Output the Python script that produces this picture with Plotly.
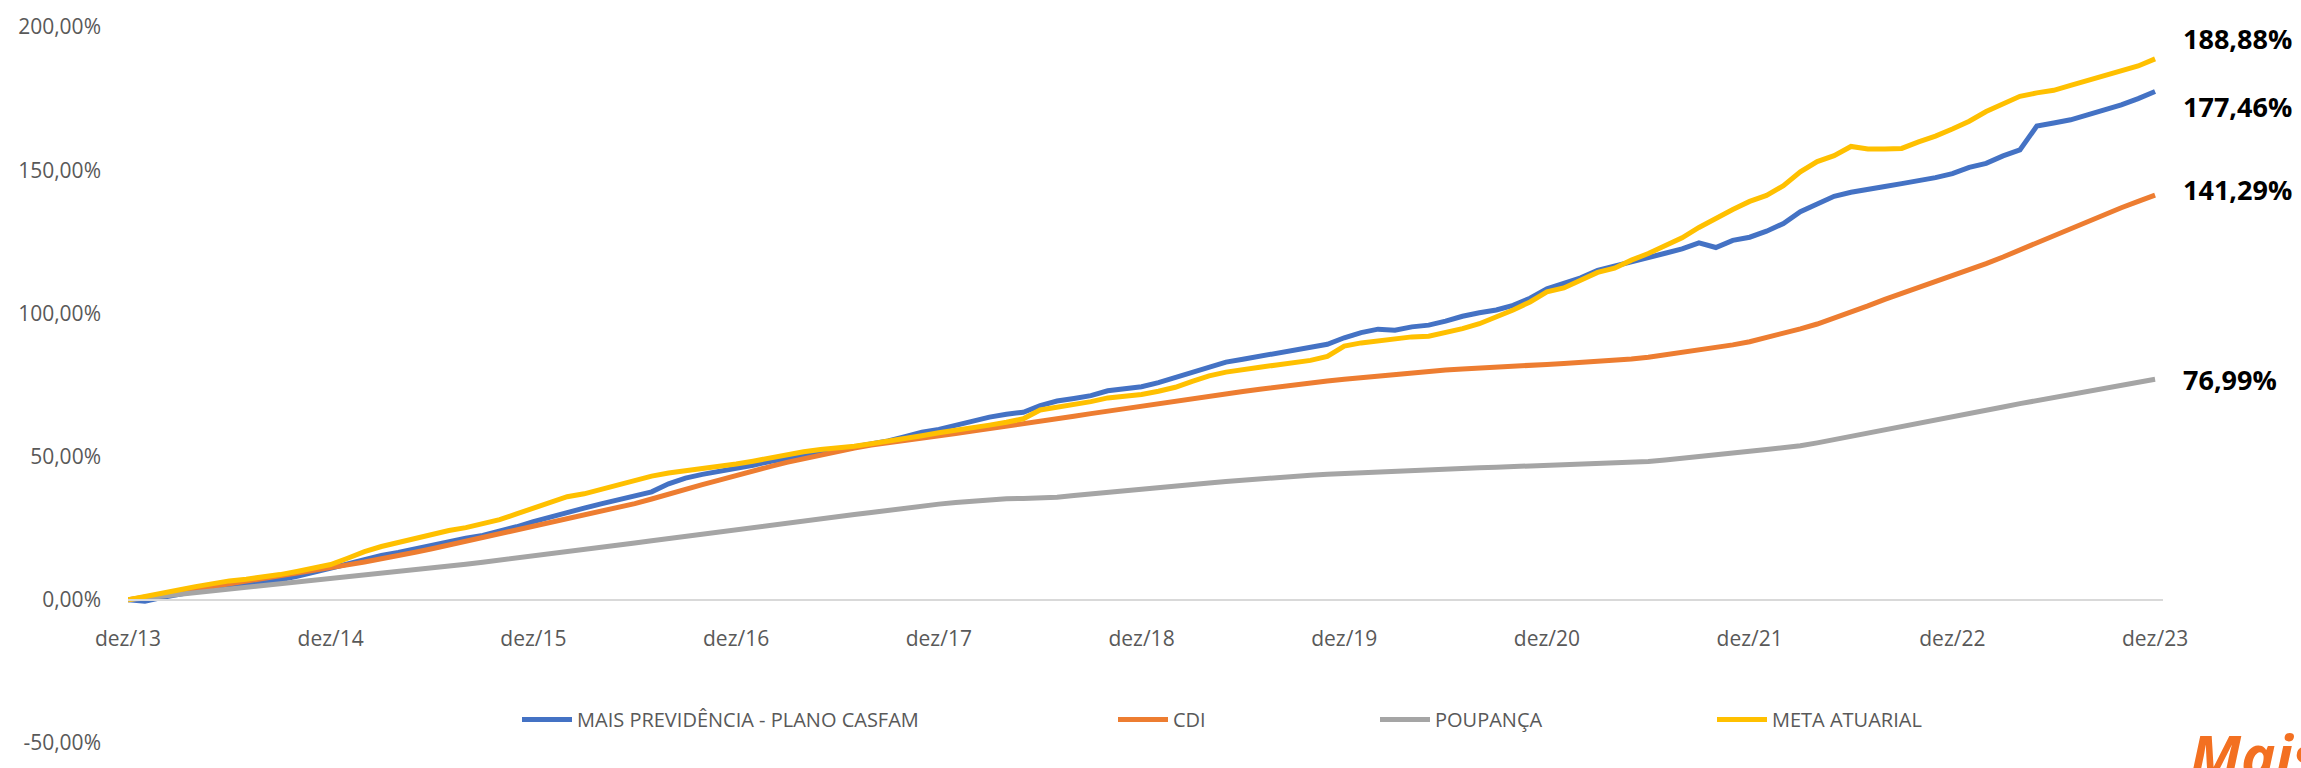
import plotly.graph_objects as go

# ---------------- data ----------------
month_abbr = ["jan", "fev", "mar", "abr", "mai", "jun", "jul", "ago", "set", "out", "nov", "dez"]
categories = ["dez/13"] + [f"{month_abbr[m]}/{y % 100:02d}" for y in range(2014, 2024) for m in range(12)]

tick_labels = ["dez/13", "dez/14", "dez/15", "dez/16", "dez/17", "dez/18",
               "dez/19", "dez/20", "dez/21", "dez/22", "dez/23"]

mais_previdencia = [
    0.0, -0.5, 0.8, 2.0, 3.0, 3.8, 4.5, 5.2, 6.0, 7.0, 8.2, 9.5,
    11.0, 12.5, 14.0, 15.5, 16.5, 17.8, 19.0, 20.5, 21.5, 22.5, 23.8, 25.5,
    27.3, 29.0, 30.5, 32.0, 33.5, 35.0, 36.5, 37.7, 40.5, 42.5, 43.8, 44.8,
    45.8, 47.0, 48.3, 49.3, 50.3, 51.5, 52.5, 53.5, 54.5, 55.5, 57.0, 58.5,
    59.5, 61.0, 62.5, 63.8, 64.8, 65.5, 67.8, 69.4, 70.3, 71.3, 73.0, 73.8,
    74.4, 75.8, 77.6, 79.3, 81.0, 83.0, 84.0, 85.0, 86.0, 87.0, 88.0, 89.2,
    91.5, 93.3, 94.5, 94.1, 95.3, 95.9, 97.3, 99.0, 100.2, 101.2, 102.8, 105.3,
    108.6, 110.5, 112.4, 115.0, 116.4, 118.0, 119.4, 121.0, 122.5, 124.6, 123.0, 125.5,
    126.6, 128.7, 131.4, 135.5, 138.2, 140.9, 142.3, 143.5, 144.3, 145.3, 146.3, 147.4,
    148.8, 151.0, 152.4, 155.0, 157.1, 165.4, 166.5, 167.6, 169.3, 171.0, 172.8, 175.0,
    177.46,
]

cdi = [
    0.0, 0.8, 1.8, 2.8, 3.7, 4.6, 5.5, 6.4, 7.4, 8.4, 9.3, 10.3,
    11.2, 12.2, 13.2, 14.2, 15.4, 16.6, 17.8, 19.1, 20.4, 21.6, 22.9, 24.2,
    25.5, 26.8, 28.1, 29.4, 30.8, 32.2, 33.6, 35.2, 37.0, 38.6, 40.2, 41.8,
    43.5, 45.0, 46.5, 48.0, 49.3, 50.6, 51.8, 53.0, 54.0, 54.9, 55.7, 56.5,
    57.3, 58.1, 58.9, 59.7, 60.5, 61.4, 62.3, 63.2, 64.1, 65.0, 65.9, 66.8,
    67.7, 68.6, 69.4, 70.2, 71.1, 71.9, 72.7, 73.5, 74.3, 75.0, 75.7, 76.4,
    77.0, 77.6, 78.2, 78.8, 79.3, 79.8, 80.2, 80.6, 81.0, 81.3, 81.6, 81.9,
    82.2, 82.5, 82.8, 83.2, 83.6, 84.1, 84.7, 85.5, 86.3, 87.1, 88.0, 89.0,
    90.1, 91.5, 93.0, 94.6, 96.3, 98.3, 100.4, 102.6, 104.9, 107.0, 108.8, 110.8,
    112.9, 115.1, 117.4, 119.7, 122.2, 124.5, 127.0, 129.6, 132.2, 134.6, 136.9, 139.1,
    141.29,
]

poupanca = [
    0.0, 0.6, 1.3, 2.0, 2.6, 3.2, 3.8, 4.4, 5.0, 5.6, 6.2, 6.8,
    7.3, 7.9, 8.5, 9.1, 9.7, 10.4, 11.0, 11.7, 12.4, 13.1, 13.8, 14.5,
    15.2, 15.9, 16.6, 17.4, 18.2, 19.0, 19.8, 20.6, 21.4, 22.2, 23.0, 23.8,
    24.6, 25.4, 26.2, 26.9, 27.6, 28.4, 29.1, 29.8, 30.5, 31.3, 32.0, 32.7,
    33.4, 34.0, 34.5, 35.0, 35.3, 35.4, 35.4, 35.8, 36.4, 37.0, 37.6, 38.2,
    38.7, 39.3, 39.8, 40.3, 40.8, 41.3, 41.8, 42.3, 42.7, 43.1, 43.5, 43.8,
    44.1, 44.4, 44.7, 45.0, 45.3, 45.5, 45.7, 45.9, 46.1, 46.3, 46.5, 46.7,
    46.9, 47.1, 47.3, 47.5, 47.7, 47.9, 48.3, 48.8, 49.5, 50.2, 50.9, 51.4,
    51.9, 52.5, 53.1, 53.8, 54.8, 55.9, 57.0, 58.2, 59.3, 60.4, 61.5, 62.6,
    63.8, 65.0, 66.2, 67.3, 68.5, 69.6, 70.5, 71.4, 72.5, 73.6, 74.8, 75.9,
    76.99,
]

meta_atuarial = [
    0.0, 1.0, 2.1, 3.4, 4.6, 5.8, 6.6, 7.2, 7.8, 8.8, 9.9, 11.0,
    12.3, 14.5, 16.8, 18.6, 20.0, 21.4, 22.9, 24.2, 25.2, 26.4, 28.0, 30.0,
    32.0, 34.3, 36.0, 37.0, 38.5, 40.3, 41.8, 43.2, 44.3, 45.0, 45.8, 46.5,
    47.4, 48.4, 49.6, 50.6, 51.7, 52.5, 53.0, 53.6, 54.5, 55.3, 56.3, 57.3,
    58.3, 59.1, 60.0, 61.0, 62.0, 63.2, 66.3, 67.2, 67.9, 69.2, 70.5, 71.1,
    71.7, 72.8, 74.2, 76.3, 78.2, 79.5, 80.5, 81.2, 82.0, 82.8, 83.6, 85.0,
    88.6, 89.7, 90.5, 91.4, 91.8, 92.0, 93.2, 94.7, 96.4, 98.6, 101.2, 104.0,
    107.5, 108.9, 111.6, 114.3, 115.8, 118.6, 120.9, 123.8, 126.4, 130.0, 133.3, 136.3,
    139.1, 141.2, 144.6, 149.4, 153.0, 155.1, 158.3, 157.4, 157.4, 157.6, 159.9, 161.9,
    164.4, 167.1, 170.5, 173.3, 175.8, 177.0, 177.9, 179.6, 181.3, 183.0, 184.7, 186.4,
    188.88,
]

series_names = ["MAIS PREVIDÊNCIA - PLANO CASFAM", "CDI", "POUPANÇA", "META ATUARIAL"]
series_values = [mais_previdencia, cdi, poupanca, meta_atuarial]
series_colors = ["#4472C4", "#ED7D31", "#A5A5A5", "#FFC000"]
end_label_shift = [-15, 6, 0, 20]   # pixel nudges of the end labels
y_tick_values = [-50, 0, 50, 100, 150, 200]


def fmt(v):
    return f"{v:.2f}".replace(".", ",") + "%"


y_tick_text = [fmt(v) for v in y_tick_values]

# ---------------- layout geometry ----------------
W, H = 2301, 768
ML, MR, MT, MB = 128, 138, 22, 15
plot_w = W - ML - MR
plot_h = H - MT - MB
legend_px = [517, 1113, 1375, 1712]

fig = go.Figure()
for i, (name, vals, col) in enumerate(zip(series_names, series_values, series_colors)):
    fig.add_trace(go.Scatter(
        x=categories, y=vals, name=name, mode="lines",
        line=dict(color=col, width=5),
        legend="legend" if i == 0 else f"legend{i+1}",
    ))

for vals, dy in zip(series_values, end_label_shift):
    fig.add_annotation(
        x=categories[-1], y=vals[-1], text=f"<b>{fmt(vals[-1])}</b>",
        showarrow=False, xanchor="left", yanchor="middle",
        xshift=26, yshift=dy,
        font=dict(family="Open Sans", size=27, color="#000000"),
    )

# Logo text (partly cut by the bottom edge, as in the source)
fig.add_annotation(
    xref="paper", yref="paper", x=(2188 - ML) / plot_w, y=(H - MB - 722) / plot_h,
    text="<b><i>Mais</i></b>", showarrow=False, xanchor="left", yanchor="top",
    font=dict(family="Open Sans", size=58, color="#F37021"),
)

legend_common = dict(
    orientation="h", yanchor="middle", y=(H - MB - 729) / plot_h, xanchor="left",
    font=dict(family="Open Sans", size=20, color="#595959"),
    bgcolor="rgba(0,0,0,0)", itemwidth=50, tracegroupgap=0,
)
legends = {}
for i, px in enumerate(legend_px):
    key = "legend" if i == 0 else f"legend{i+1}"
    legends[key] = dict(legend_common, x=(px - ML) / plot_w)

fig.update_layout(
    width=W, height=H,
    margin=dict(l=ML, r=MR, t=MT, b=MB, pad=0),
    paper_bgcolor="white", plot_bgcolor="white",
    showlegend=True,
    font=dict(family="Open Sans", color="#595959"),
    xaxis=dict(
        type="category", categoryorder="array", categoryarray=categories,
        range=[0, 120.47], anchor="free", position=50 / 250,
        tickmode="array", tickvals=tick_labels, ticktext=tick_labels,
        showgrid=False, zeroline=False,
        showline=True, linecolor="#D9D9D9", linewidth=2,
        ticks="", ticklabelstandoff=20,
        tickfont=dict(family="Open Sans", size=21, color="#595959"),
    ),
    yaxis=dict(
        range=[-50, 200], tickmode="array", tickvals=y_tick_values, ticktext=y_tick_text,
        showgrid=False, zeroline=False, showline=False,
        ticks="", ticklabelstandoff=26,
        tickfont=dict(family="Open Sans", size=21, color="#595959"),
    ),
    **legends,
)

fig.write_html("out.html", config={"displayModeBar": False},
               post_script="document.body.style.margin='0';")
